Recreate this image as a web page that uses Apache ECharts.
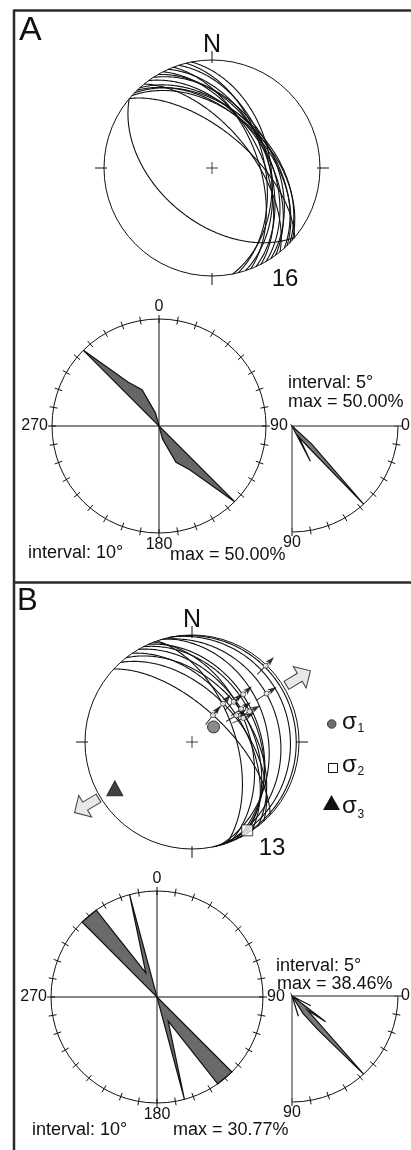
<!DOCTYPE html>
<html><head><meta charset="utf-8">
<script src="https://cdn.jsdelivr.net/npm/echarts@6/dist/echarts.min.js"></script>
<style>html,body{margin:0;padding:0;background:#fff}#c{width:411px;height:1150px}</style>
</head><body><div id="c"></div>
<script>
// ---------------- data ----------------
// Panel A: fault planes (right-hand-rule strike, dip)
const stereoA_strike = [130,310,312,314,316,318,321,324,327,330,333,336,339,342,346,349];
const stereoA_dip    = [49, 62, 47, 45, 48, 46, 60, 49, 44, 47, 52, 48, 55, 47, 50, 45];
// Panel B: fault planes
const stereoB_strike = [313,318,322,326,330,333,336,339,341,343,345,347,349];
const stereoB_dip    = [64, 52, 45, 50, 44, 39, 37, 46, 57, 19, 30, 3, 9];
// Panel B: striae (trend, plunge)
const striaB_trend  = [44,57,47,39,46,56,62,59,65,38];
const striaB_plunge = [1, 18,35,52,45,44,39,50,46,64];
// Panel B: principal stresses sigma1, sigma2, sigma3 (trend, plunge)
const sigma_trend  = [55,148,239];
const sigma_plunge = [70,3,17];
// rose diagrams of strike (bin centre, percent), 10 deg bins
const roseA_center = [135,145,155,165,315,325,335,345];
const roseA_pct    = [50,25,18.75,6.25,50,25,18.75,6.25];
const roseA_max = 50.00;
const roseB_center = [135,145,155,165,315,325,335,345];
const roseB_pct    = [30.77,30.77,7.69,30.77,30.77,30.77,7.69,30.77];
const roseB_max = 30.77;
// dip diagrams (bin centre, percent), 5 deg bins
const dipA_center = [42.5,47.5,52.5,57.5,62.5];
const dipA_pct    = [12.5,50,12.5,6.25,18.75];
const dipA_max = 50.00;
const dipB_center = [27.5,37.5,42.5,47.5,52.5,57.5,72.5];
const dipB_pct    = [7.69,15.38,7.69,38.46,15.38,7.69,7.69];
const dipB_max = 38.46;
const countA = 16, countB = 13;
const roseInterval = 10, dipInterval = 5;

// ---------------- helpers ----------------
const D = Math.PI/180;
const FONT = '"Liberation Sans", Arial, sans-serif';
const INK = '#111';
function eaR(pl){ return Math.SQRT2*Math.sin((90-pl)/2*D); }   // Schmidt net, lower hemisphere
function greatCircle(strike, dip){
  const s=strike*D, dd=(strike+90)*D, d=dip*D;
  const a=[Math.sin(s),Math.cos(s),0];
  const b=[Math.sin(dd)*Math.cos(d),Math.cos(dd)*Math.cos(d),Math.sin(d)];
  const pts=[];
  for(let t=0;t<=180;t+=1){
    const c=Math.cos(t*D), si=Math.sin(t*D);
    const v=[c*a[0]+si*b[0], c*a[1]+si*b[1], c*a[2]+si*b[2]];
    const pl=Math.asin(Math.max(-1,Math.min(1,v[2])))/D;
    let tr=Math.atan2(v[0],v[1])/D; if(tr<0) tr+=360;
    pts.push([eaR(pl), tr]);
  }
  return pts;
}
function roseVerts(centers,pct,max){
  const v=[];
  for(let c=roseInterval/2;c<360;c+=roseInterval){
    const i=centers.indexOf(c); v.push([i>=0?pct[i]/max:0, c]);
  }
  return v;
}
function dipVerts(centers,pct,max){
  const v=[[0,0]];
  for(let c=dipInterval/2;c<90;c+=dipInterval){
    const i=centers.indexOf(c); v.push([i>=0?pct[i]/max:0, c]);
  }
  v.push([0,90]);
  return v;
}
function lines(polarIndex, polylines, width, z){
  return {type:'custom', coordinateSystem:'polar', polarIndex, data:[[0,0]], silent:true, z:z||2,
    renderItem:(p,api)=>({type:'group', children: polylines.map(pl=>({type:'polyline',
      shape:{points: pl.map(q=>api.coord(q).slice(0,2))},
      style:{stroke:INK, lineWidth:width, fill:null}}))})};
}
function poly(polarIndex, verts, fill){
  return {type:'custom', coordinateSystem:'polar', polarIndex, data:[[0,0]], silent:true, z:3,
    renderItem:(p,api)=>({type:'polygon', shape:{points: verts.map(q=>api.coord(q).slice(0,2))},
      style:{fill, stroke:'#111', lineWidth:1.2, lineJoin:'miter'}})};
}
function crossSeries(polarIndex){
  return {type:'scatter', coordinateSystem:'polar', polarIndex, data:[[0,0]], silent:true, z:4,
    symbol:'path://M0,6L12,6M6,0L6,12', symbolSize:12,
    itemStyle:{color:'rgba(0,0,0,0)', borderColor:INK, borderWidth:1}};
}

// ---------------- layout ----------------
const polars = [
  {center:[212,168], radius:108},  // 0 stereonet A
  {center:[192,742], radius:107},  // 1 stereonet B
  {center:[159,426], radius:107},  // 2 rose A
  {center:[157,997], radius:106},  // 3 rose B
  {center:[292,426], radius:106},  // 4 dip A
  {center:[292,996], radius:106}   // 5 dip B
];
const allPolars = polars.concat(polars.map(p=>({center:p.center, radius:p.radius})));
const kinds = ['stereo','stereo','rose','rose','dip','dip'];

function angleAxisFor(i, inner){
  const k = kinds[i%6];
  const base = {polarIndex:i, type:'value', splitLine:{show:false}, clockwise:true};
  if(k==='stereo'){
    Object.assign(base,{min:0,max:360,interval:90,startAngle:90,
      axisLine:{show:!inner, lineStyle:{color:INK,width:1}},
      axisTick:{inside:!!inner, length: inner?3:9, lineStyle:{color:INK,width:1}},
      axisLabel:{show:!inner, formatter:v=>v===0?'N':'', fontSize:25, margin:2, color:INK, fontFamily:FONT}});
  } else if(k==='rose'){
    Object.assign(base,{min:0,max:360,interval:roseInterval,startAngle:90,
      axisLine:{show:!inner, lineStyle:{color:INK,width:1}},
      axisTick:{inside:!!inner, length:4, lineStyle:{color:INK,width:1}},
      axisLabel:{show:!inner, formatter:v=>(v%90===0&&v<360)?String(v):'', fontSize:16, margin:4, color:INK, fontFamily:FONT}});
  } else {
    Object.assign(base,{min:0,max:90,interval:10,startAngle:0,endAngle:-90,
      axisLine:{show:!inner, lineStyle:{color:INK,width:1}},
      axisTick:{inside:!!inner, length:4, lineStyle:{color:INK,width:1}},
      axisLabel:{show:!inner, formatter:v=>(v===0||v===90)?String(v):'', fontSize:16, margin:3, color:INK, fontFamily:FONT}});
  }
  return base;
}
const angleAxes = allPolars.map((p,i)=>angleAxisFor(i, i>=6));
const radiusAxes = allPolars.map((p,i)=>({polarIndex:i, type:'value', min:0, max:1, show:false}));

// ---------------- series ----------------
const series = [];
series.push(lines(0, stereoA_strike.map((s,i)=>greatCircle(s, stereoA_dip[i])), 1.1));
series.push(lines(1, stereoB_strike.map((s,i)=>greatCircle(s, stereoB_dip[i])), 1.1));
series.push(crossSeries(0), crossSeries(1));
// rose crosshairs
[2,3].forEach(pi=>series.push(lines(pi, [[[1,0],[1,180]],[[1,90],[1,270]]], 1, 2)));
series.push(poly(2, roseVerts(roseA_center, roseA_pct, roseA_max), '#666'));
series.push(poly(3, roseVerts(roseB_center, roseB_pct, roseB_max), '#6a6a6a'));
// dip diagram frames
[4,5].forEach(pi=>series.push({type:'custom', coordinateSystem:'polar', polarIndex:pi, data:[[0,0]], silent:true, z:2,
  renderItem:(p,api)=>({type:'polyline', shape:{points:[[1,0],[0,0],[1,90]].map(q=>api.coord(q).slice(0,2))},
    style:{stroke:'#6a6a6a', lineWidth:1.4, fill:null}})}));
series.push(poly(4, dipVerts(dipA_center, dipA_pct, dipA_max), '#777'));
series.push(poly(5, dipVerts(dipB_center, dipB_pct, dipB_max), '#777'));
// striae on panel B
series.push({type:'scatter', coordinateSystem:'polar', polarIndex:1, silent:true, z:5,
  data: striaB_trend.map((t,i)=>[eaR(striaB_plunge[i]), t]),
  symbol:'path://M5,0L10,10L5.8,8L5.8,26L4.2,26L4.2,8L0,10Z', symbolSize:[6,24],
  symbolRotate: v=>-v[1], itemStyle:{color:'#000'}});
series.push({type:'scatter', coordinateSystem:'polar', polarIndex:1, silent:true, z:6,
  data: striaB_trend.map((t,i)=>[eaR(striaB_plunge[i]), t]),
  symbol:'circle', symbolSize:5, itemStyle:{color:'#fff', borderColor:INK, borderWidth:0.8}});
// sigma markers
const sigStyles = [
  {symbol:'circle', size:12, color:'#6e6e6e'},
  {symbol:'rect', size:11, color:'#fff'},
  {symbol:'triangle', size:[16,15], color:'#111'}
];
sigma_trend.forEach((t,i)=>series.push({type:'scatter', coordinateSystem:'polar', polarIndex:1, silent:true, z:7, clip:false,
  data:[[eaR(sigma_plunge[i]), t]], symbol:sigStyles[i].symbol, symbolSize:sigStyles[i].size,
  itemStyle:{color:sigStyles[i].color, borderColor:'#111', borderWidth:1}}));
// extension arrows along sigma3
series.push({type:'scatter', coordinateSystem:'polar', polarIndex:1, silent:true, z:7, clip:false,
  data:[[1.16, (sigma_trend[2]+180)%360],[1.15, sigma_trend[2]]],
  symbol:'path://M12,0L24,12L16.5,12L16.5,27L7.5,27L7.5,12L0,12Z', symbolSize:[25,28],
  symbolRotate: v=>-v[1], itemStyle:{color:'#e2e2e2', borderColor:'#111', borderWidth:1}});

// ---------------- text & frame ----------------
function txt(text, x, y, size, align, extra){
  return Object.assign({type:'text', x, y, silent:true, style:{text, font: size+'px '+FONT, fill:INK,
    textAlign:align||'left', align:align||'left', textVerticalAlign:'middle', verticalAlign:'middle'}}, extra||{});
}
function ln(x1,y1,x2,y2,w,c){ return {type:'line', silent:true, shape:{x1,y1,x2,y2}, style:{stroke:c||'#2a2a2a', lineWidth:w||2.5}}; }
const pctTxt = v=>'max = '+v.toFixed(2)+'%';
const graphic = [
  ln(14,10.5,411,10.5), ln(14,9.5,14,1150), ln(14,582.5,411,582.5),
  txt('A', 19, 31, 34), txt('B', 17, 601, 31),
  txt(String(countA), 285, 279, 24, 'center'), txt(String(countB), 272, 848, 24, 'center'),
  txt('interval: '+roseInterval+'°', 28, 553, 18), txt(pctTxt(roseA_max), 170, 555, 18),
  txt('interval: '+dipInterval+'°', 288, 383, 18), txt(pctTxt(dipA_max), 288, 402, 18),
  txt('interval: '+roseInterval+'°', 32, 1130, 18), txt(pctTxt(roseB_max), 173, 1130, 18),
  txt('interval: '+dipInterval+'°', 276, 966, 18), txt(pctTxt(dipB_max), 277, 984, 18),
  // sigma legend
  {type:'circle', silent:true, shape:{cx:331.7, cy:724, r:4.3}, style:{fill:'#6e6e6e', stroke:'#222', lineWidth:0.8}},
  {type:'rect', silent:true, shape:{x:328.5, y:763.5, width:9, height:9}, style:{fill:'#fff', stroke:'#111', lineWidth:1}},
  {type:'polygon', silent:true, shape:{points:[[331.5,795],[340,810],[323,810]]}, style:{fill:'#111'}},
  txt('σ', 342, 722.5, 24), txt('1', 357.5, 729, 12),
  txt('σ', 342, 765.5, 24), txt('2', 357.5, 772, 12),
  txt('σ', 342, 806.5, 24), txt('3', 357.5, 814.5, 12)
];

const chart = echarts.init(document.getElementById('c'), null, {renderer:'canvas'});
chart.setOption({
  animation:false, backgroundColor:'#fff',
  polar: allPolars, angleAxis: angleAxes, radiusAxis: radiusAxes,
  series, graphic
});
</script></body></html>
